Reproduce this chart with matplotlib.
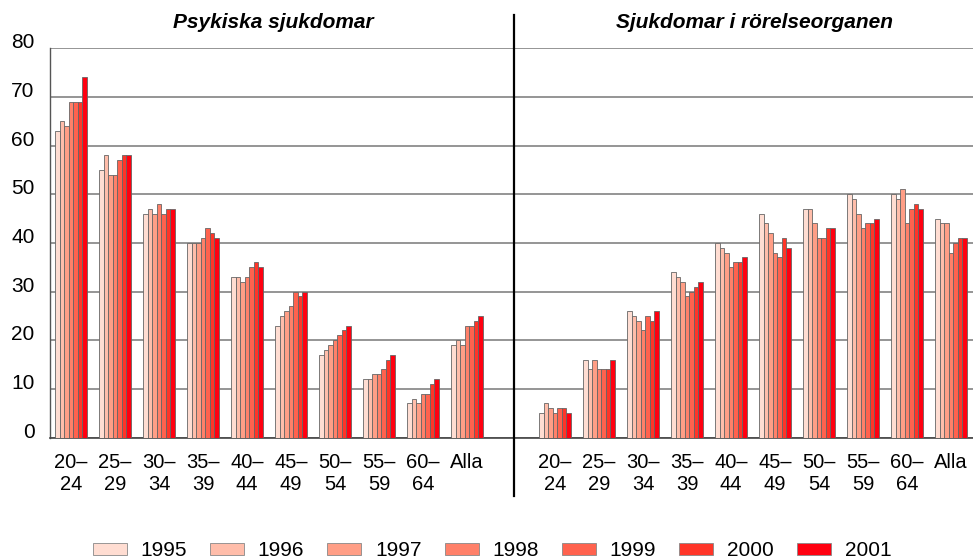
import matplotlib
matplotlib.use('Agg')
import matplotlib.pyplot as plt
from matplotlib.lines import Line2D
from matplotlib.patches import Patch
import numpy as np

plt.rcParams['font.family'] = ['Liberation Sans', 'DejaVu Sans']

# Age groups (same for both panels)
age_groups = ['20–\n24', '25–\n29', '30–\n34', '35–\n39', '40–\n44',
              '45–\n49', '50–\n54', '55–\n59', '60–\n64', 'Alla']
years = ['1995', '1996', '1997', '1998', '1999', '2000', '2001']
year_colors = ['#ffddd2', '#ffbdaa', '#ff9e86', '#ff8069', '#ff624e', '#ff3528', '#ff0010']

panel_titles = ['Psykiska sjukdomar', 'Sjukdomar i rörelseorganen']

# rows = age group, columns = year 1995..2001
psykiska = [
    [63, 65, 64, 69, 69, 69, 74],
    [55, 58, 54, 54, 57, 58, 58],
    [46, 47, 46, 48, 46, 47, 47],
    [40, 40, 40, 41, 43, 42, 41],
    [33, 33, 32, 33, 35, 36, 35],
    [23, 25, 26, 27, 30, 29, 30],
    [17, 18, 19, 20, 21, 22, 23],
    [12, 12, 13, 13, 14, 16, 17],
    [7, 8, 7, 9, 9, 11, 12],
    [19, 20, 19, 23, 23, 24, 25],
]
rorelse = [
    [5, 7, 6, 5, 6, 6, 5],
    [16, 14, 16, 14, 14, 14, 16],
    [26, 25, 24, 22, 25, 24, 26],
    [34, 33, 32, 29, 30, 31, 32],
    [40, 39, 38, 35, 36, 36, 37],
    [46, 44, 42, 38, 37, 41, 39],
    [47, 47, 44, 41, 41, 43, 43],
    [50, 49, 46, 43, 44, 44, 45],
    [50, 49, 51, 44, 47, 48, 47],
    [45, 44, 44, 38, 40, 41, 41],
]

W, H = 973, 560
fig = plt.figure(figsize=(W / 100, H / 100), dpi=100)
ax = fig.add_axes([50 / W, 1 - 437.5 / H, 1 - 50 / W, (437.5 - 48.3) / H])

n_groups = len(age_groups)
bar_w = 0.103
offsets = (np.arange(len(years)) - 3) * bar_w

left_pos = np.arange(n_groups)
right_pos = np.arange(n_groups) + n_groups + 1

for data, pos in [(psykiska, left_pos), (rorelse, right_pos)]:
    arr = np.array(data)
    for j in range(len(years)):
        ax.bar(pos + offsets[j], arr[:, j], width=bar_w, color=year_colors[j],
               edgecolor='#666666', linewidth=0.6, zorder=3)

ax.set_xlim(-0.477, 20.5)
ax.set_ylim(0, 80)
ax.set_yticks(range(0, 81, 10))
ax.grid(axis='y', color='#959595', linewidth=1.4, zorder=0)
ax.set_axisbelow(True)

ax.set_xticks(np.concatenate([left_pos, right_pos]))
ax.set_xticklabels(age_groups + age_groups, fontsize=14.5, linespacing=1.2, va='top')
ax.tick_params(axis='x', length=0, pad=11)
ax.tick_params(axis='y', length=0, pad=11, labelsize=15)
for lbl in ax.get_yticklabels():
    lbl.set_va('baseline')

for s in ['top', 'right']:
    ax.spines[s].set_visible(False)
ax.spines['left'].set_color('#555555')
ax.spines['bottom'].set_color('#444444')
ax.spines['left'].set_linewidth(1.0)
ax.spines['bottom'].set_linewidth(1.2)

# divider between the two panels
fig.add_artist(Line2D([514 / W, 514 / W], [1 - 15 / H, 1 - 496 / H],
                      color='black', linewidth=1.6))

fig.text(273 / W, 1 - 22 / H, panel_titles[0], fontsize=15, fontweight='bold',
         fontstyle='italic', ha='center', va='center')
fig.text(754 / W, 1 - 22 / H, panel_titles[1], fontsize=15, fontweight='bold',
         fontstyle='italic', ha='center', va='center')

handles = [Patch(facecolor=c, edgecolor='#888888', linewidth=0.6) for c in year_colors]
fig.legend(handles, years, loc='center', bbox_to_anchor=(492 / W, 1 - 551 / H),
           ncol=7, frameon=False, fontsize=15, handlelength=1.63, handleheight=0.53,
           handletextpad=0.67, columnspacing=1.1, borderpad=0)

fig.savefig('out.png', dpi=100)
